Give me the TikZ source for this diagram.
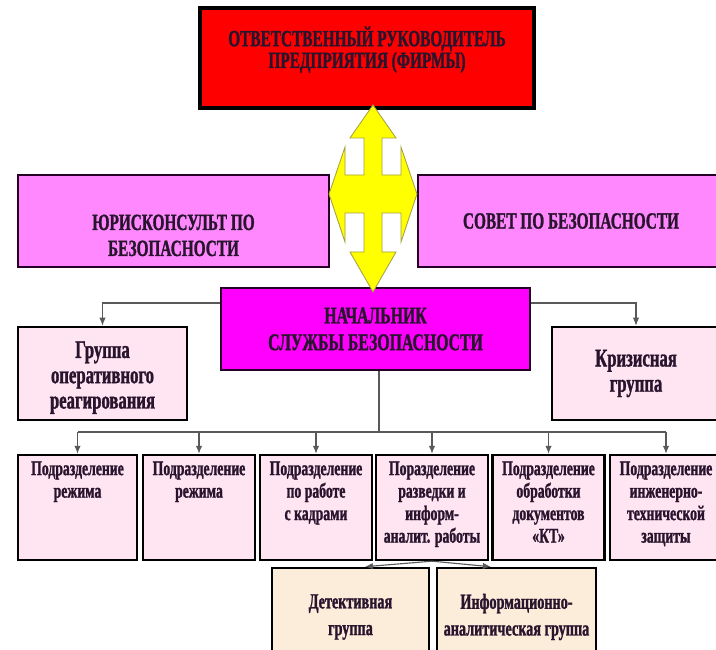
\documentclass[tikz,border=0pt]{standalone}
\usepackage{fontspec}
\setmainfont{Liberation Serif}[FakeStretch=0.66, BoldFont={Liberation Serif Bold},
  BoldFeatures={FakeBold=1.2}]
\usetikzlibrary{arrows.meta, positioning, calc}
\definecolor{bossred}{RGB}{255,0,0}
\definecolor{advpink}{RGB}{255,136,255}
\definecolor{chiefpink}{RGB}{255,0,255}
\definecolor{unitpink}{RGB}{255,228,242}
\definecolor{subpeach}{RGB}{252,237,219}
\definecolor{crossyellow}{RGB}{255,255,0}
\definecolor{txt}{RGB}{40,20,45}
% text of a unit box hangs from the top
\newcommand{\unittxt}[1]{\parbox[c][2.3cm][t]{2.6cm}{\centering #1}}

\begin{document}
\begin{tikzpicture}[
  bossbox/.style={draw=black, line width=2.2pt, fill=bossred, align=center, text=txt,
                  font=\fontsize{16.5}{15.5}\selectfont\bfseries},
  adv/.style={draw=black!70!violet, line width=1.2pt, fill=advpink, align=center, text=txt,
              minimum height=2.3cm, font=\fontsize{16.5}{18.5}\selectfont\bfseries},
  chiefbox/.style={draw=black!70!violet, line width=1.2pt, fill=chiefpink, align=center, text=txt,
                   font=\fontsize{17}{19}\selectfont\bfseries},
  grp/.style={draw=black, line width=1.8pt, fill=unitpink, align=center, text=txt,
              minimum height=2.325cm, font=\fontsize{18}{18}\selectfont\bfseries},
  unit/.style={draw=black, line width=1.8pt, fill=unitpink, text=txt, inner xsep=1mm,
               inner ysep=1.6mm, font=\fontsize{14.8}{16}\selectfont\bfseries},
  sub/.style={draw=black, line width=1.8pt, fill=subpeach, align=center, text=txt,
              minimum height=2.45cm, font=\fontsize{15.3}{19}\selectfont\bfseries},
  arr/.style={-{Latex[length=2mm, width=1.6mm]}, line width=0.8pt, black!65},
  bus/.style={line width=0.8pt, black!65},
  cross/.style={fill=crossyellow, draw=black!40!yellow, line width=0.6pt}
]
\useasboundingbox (0,0) rectangle (17.9,16.225);
% management
\node[bossbox, minimum width=8.35cm, minimum height=2.5cm, text height=0.5cm, text depth=0pt]
     (boss) at (9.175,14.775) {ОТВЕТСТВЕННЫЙ РУКОВОДИТЕЛЬ\\ПРЕДПРИЯТИЯ (ФИРМЫ)};
\node[adv, minimum width=7.775cm, text height=1.75cm, text depth=0pt] (jur) at (4.3375,10.7)
     {ЮРИСКОНСУЛЬТ ПО\\БЕЗОПАСНОСТИ};
\node[adv, minimum width=7.65cm] (council) at (14.275,10.7) {СОВЕТ ПО БЕЗОПАСНОСТИ};
\node[chiefbox, minimum width=7.725cm, minimum height=2.05cm] (chief) at (9.3875,8.0)
     {НАЧАЛЬНИК\\СЛУЖБЫ БЕЗОПАСНОСТИ};
% four-way arrow
\draw[cross] (9.325,13.6) -- (9.9,12.775) -- (9.55,12.775) -- (9.55,11.85) -- (10.025,11.85)
  -- (10.025,12.55) -- (10.425,11.375) -- (10.025,10.175) -- (10.025,10.9) -- (9.55,10.9)
  -- (9.55,9.925) -- (9.9,9.925) -- (9.325,8.925) -- (8.75,9.925) -- (9.1,9.925) -- (9.1,10.9)
  -- (8.625,10.9) -- (8.625,10.175) -- (8.225,11.375) -- (8.625,12.55) -- (8.625,11.85)
  -- (9.1,11.85) -- (9.1,12.775) -- (8.75,12.775) -- cycle;
% groups
\node[grp, minimum width=4.225cm, text height=1.75cm, text depth=0pt] (oper) at (2.5625,6.8875)
     {Группа\\оперативного\\реагирования};
\node[grp, minimum width=4.2cm] (crisis) at (15.9,6.8875) {Кризисная\\группа};
\draw[arr] ([yshift=6.5mm]chief.west) -| (oper);
\draw[arr] ([yshift=6.5mm]chief.east) -| (crisis);
% units
\node[unit, minimum width=2.975cm] (u1) at (1.9375,3.5375) {\unittxt{Подразделение\\режима}};
\node[unit, minimum width=2.7cm] (u2) at (4.975,3.5375) {\unittxt{Подразделение\\режима}};
\node[unit, minimum width=2.7cm] (u3) at (7.9,3.5375) {\unittxt{Подразделение\\по работе\\с кадрами}};
\node[unit, minimum width=2.7cm] (u4) at (10.8,3.5375)
     {\unittxt{Поразделение\\разведки и\\информ-\\аналит. работы}};
\node[unit, minimum width=2.7cm] (u5) at (13.7125,3.5375)
     {\unittxt{Подразделение\\обработки\\документов\\«КТ»}};
\node[unit, minimum width=2.7cm] (u6) at (16.65,3.5375)
     {\unittxt{Подразделение\\инженерно-\\технической\\защиты}};
\coordinate (bus) at (9.475,5.425);
\draw[bus] (chief.south -| bus) -- (bus);
\draw[bus] (u1 |- bus) -- (u6 |- bus);
\foreach \i in {1,...,6}
  \draw[arr] (u\i |- bus) -- (u\i);
% sub-groups
\node[sub, minimum width=3.925cm] (det) at (8.7625,0.8) {Детективная\\группа};
\node[sub, minimum width=3.975cm] (info) at (12.9125,0.8) {Информационно-\\аналитическая группа};
\draw[arr] (u4.south) -- ([xshift=3.6mm]det.north);
\draw[arr] (u4.south) -- ([xshift=-6.4mm]info.north);
\end{tikzpicture}
\end{document}
